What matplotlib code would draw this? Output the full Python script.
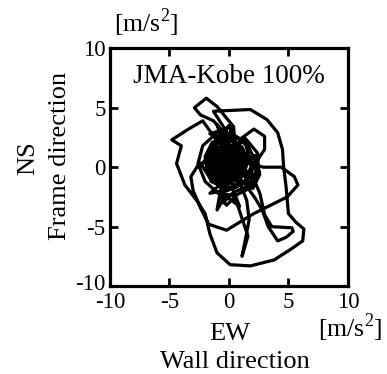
import matplotlib.pyplot as plt
import matplotlib.transforms as mtrans

plt.rcParams['font.family'] = ['Liberation Serif', 'DejaVu Serif']
plt.rcParams['mathtext.fontset'] = 'custom'
plt.rcParams['mathtext.rm'] = 'Liberation Serif'
plt.rcParams['axes.unicode_minus'] = False

# EW (wall direction) / NS (frame direction) acceleration orbit
ew = [0.0, 0.6, 0.2, -0.7, -1.0, -0.5, 0.5, 1.1, 0.8, -0.2, -1.2, -1.6, -1.1, 0.0, 1.2, 1.6, 1.1, -0.1,
      -1.4, -2.0, -1.8, -0.8, 0.6, 1.8, 2.2, 1.5, 0.3, -1.0, -2.2, -2.6, -2.0, -0.9, 0.5, 1.7, 2.5, 2.4,
      1.4, 0.0, -0.6, 0.3, 0.9, 0.1, -0.4, 0.4,
      -0.3, 0.8, 1.3, 0.4, -0.9, -1.3, -0.4, 0.9, 1.5, 1.0, -0.2, -1.4, -1.1, 0.1, 1.3, 1.2, 0.2, -0.8,
      -0.2, 0.7, 0.0, -1.0, -0.6, 0.5, 1.4, 1.9, 1.4, 0.0, -1.5, -1.9, -1.4, -0.2, -0.6, 0.3, 1.1, 0.6,
      -0.6, -1.2, -0.8, 0.4, 1.7, 2.3, 1.6, 0.4, -0.5, -0.3, 0.9, 1.0, 0.0, -1.7, -2.3, -1.6, -0.4, 0.6,
      0.2, -0.5, 0.3, 0.8, -0.1,
      -1.0, -0.4, -1.6, 0.2, 0.0, -1.0, -0.3, 0.9, 0.3, -1.6, 2.2, 2.6, 2.0, 0.6,
      0.4, -1.0, -1.9, -2.9, -2.4, -1.3, -0.5, 0.1,
      -0.8, -1.5, -0.9, 0.3, 1.0, 0.6, -0.3, -1.3, -1.9, -1.2, 0.0, 0.7,
      -1.3, 1.8, 3.2, 4.1, 4.5, 4.6, 4.8, 5.0, 5.6, 6.3, 6.2, 5.2, 3.8, 1.8, 0.1, -1.0, -1.6, -2.0,
      -2.7, -3.7, -4.4, -4.1, -4.0, -4.8, -3.4, -2.2, -1.0, 0.2,
      1.2, 0.2, -0.9, -1.4, -0.6, 0.8, 1.3, 0.5, -0.5, -1.1, -0.3, 0.9,
      2.9, 4.4, 5.5, 5.8, 4.9, 2.1, -0.2, -1.7, -2.3, -3.0, -3.2, -2.5, -1.2,
      0.0, 0.9, -0.2, -1.0, -0.4, 0.7, 1.2,
      2.2, 2.8, 3.3, 4.1, 4.8, 5.4, 5.3, 3.6, 3.0, 2.6, 2.0, 0.9,
      0.2, -0.8, -0.2, 0.5, 1.2, 1.6, 1.1, 1.4, 1.7, 1.5, 0.8,
      -0.6, -1.0, -0.3, 0.6, 0.9, 0.1,
      1.0, 2.1, 3.0, 3.0, 2.4, 1.6, 0.4,
      -0.7, -1.2, -0.5, 0.4, 1.0, 0.3, -0.4, -0.1, 0.5, 0.0]
ns = [0.0, 0.8, 1.5, 1.2, 0.2, -0.7, -0.6, 0.3, 1.3, 2.0, 1.5, 0.4, -0.8, -1.2, -0.7, 0.5, 1.7, 2.4,
      2.1, 0.9, -0.5, -1.6, -1.7, -0.8, 0.6, 2.0, 2.8, 2.9, 1.8, 0.3, -1.2, -2.2, -2.4, -1.8, -0.4, 1.2,
      2.4, 1.2, 0.4, -0.3, 0.6, 1.0, -0.2, 0.2,
      0.5, 1.2, 0.0, -1.1, -0.6, 0.8, 1.7, 1.6, 0.6, -0.9, -1.4, -0.3, 1.3, 1.9, 1.1, -0.4, -1.0, 0.1,
      1.1, 0.4, -0.5, 0.6, 2.2, 2.6, 1.9, 0.2, -1.3, -1.9, -1.2, 0.3, 1.9, 3.0, 1.4, 0.7, -0.2, -1.5,
      -1.1, 0.0, 1.0, 1.4, 0.9, -0.3, -1.6, -2.1, -3.0, -1.5, -0.8, 0.8, 1.5, 1.0, 0.2, -0.9, -0.8, 0.0,
      1.0, 0.2, -0.3, 0.9, 0.6,
      3.6, 2.4, 2.8, 3.4, 2.0, -3.6, -2.4, -3.3, -1.8, -2.2, 1.0, -0.6, -1.8, 0.3,
      3.4, 5.1, 5.8, 5.0, 4.4, 3.9, 3.0, 1.2,
      -0.6, 0.8, 2.2, 2.6, 1.4, -0.3, -1.4, -1.0, 0.6, 2.0, 3.5, 1.6,
      4.7, 4.85, 4.0, 2.9, 1.5, 0.0, -1.6, -3.9, -4.6, -5.2, -6.2, -6.9, -7.8, -8.3, -8.2, -7.2, -5.6, -3.9,
      -2.8, -1.5, 0.3, 1.4, 1.8, 2.3, 3.2, 3.9, 2.2, 0.9,
      0.1, -0.9, -0.5, 0.6, 1.6, 1.9, 0.8, -0.4, -0.6, 0.3, 1.1, 0.5,
      0.0, 0.0, -0.8, -1.5, -2.5, -3.9, -5.3, -4.8, -3.6, -2.0, -0.8, 0.3, 0.6,
      -0.3, -1.3, -2.0, -1.1, -0.2, -0.9, -1.2,
      -2.6, -3.6, -5.0, -6.2, -5.9, -5.4, -5.1, -5.0, -4.0, -2.2, -0.8, 0.2,
      -0.9, -2.4, -3.2, -2.5, -4.6, -5.8, -7.5, -6.0, -4.4, -2.8, -1.0,
      -0.2, 1.0, 1.8, 1.3, 0.2, 0.5,
      2.4, 3.2, 2.6, 1.5, 0.6, -0.6, -0.3,
      0.2, 1.1, 1.4, 0.9, 0.2, -0.4, 0.1, 0.8, 0.6, 0.3]

ticks = [-10, -5, 0, 5, 10]

fig = plt.figure(figsize=(3.87, 3.74), dpi=100)
ax = fig.add_axes([0.284, 0.235, 0.615, 0.636])
ax.plot(ew, ns, color='black', lw=2.3, solid_joinstyle='round')
ax.set_xlim(-10, 10)
ax.set_ylim(-10, 10)
ax.set_xticks(ticks)
ax.set_yticks(ticks)
ax.tick_params(direction='in', length=6, width=2, labelsize=16.5, top=True, right=True)
ax.tick_params(axis='x', pad=4)
ax.tick_params(axis='y', pad=3)
for s in ax.spines.values():
    s.set_linewidth(2.3)

# lift the bottom y label a little so it clears the x "-10"
lab = ax.get_yticklabels()[0]
lab.set_transform(lab.get_transform() + mtrans.ScaledTranslation(0, 3 / 72, fig.dpi_scale_trans))

ax.text(0, 7.05, 'JMA-Kobe 100%', ha='center', va='baseline', fontsize=19.5)
fig.text(0.377, 0.914, '[m/s$^2$]', ha='center', va='baseline', fontsize=18.5)
fig.text(0.905, 0.100, '[m/s$^2$]', ha='center', va='baseline', fontsize=18.5)
fig.text(0.594, 0.091, 'EW', ha='center', va='baseline', fontsize=19)
fig.text(0.607, 0.016, 'Wall direction', ha='center', va='baseline', fontsize=19)
fig.text(0.073, 0.577, 'NS', ha='center', va='center', rotation=90, fontsize=19)
fig.text(0.155, 0.583, 'Frame direction', ha='center', va='center', rotation=90, fontsize=19)

fig.savefig('out.png', dpi=100)
